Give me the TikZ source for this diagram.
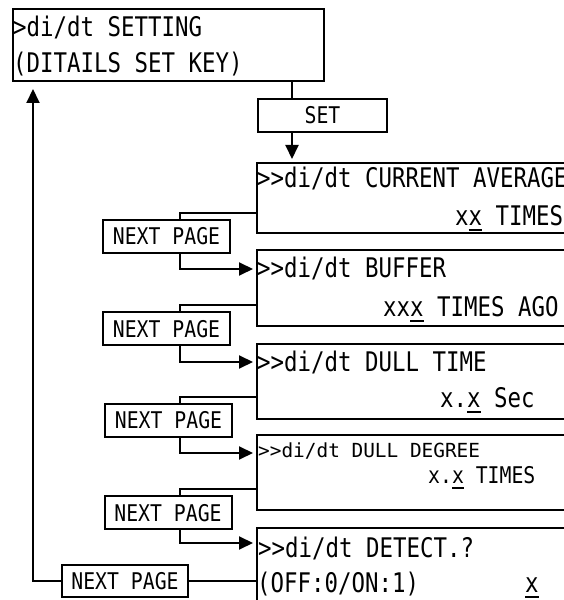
\documentclass[tikz,border=0pt]{standalone}
\usepackage{fontspec}
\usetikzlibrary{arrows.meta, positioning}
\newfontfamily\lcdfont[FakeStretch=0.83]{DejaVu Sans Mono}
\newfontfamily\keyfont[FakeStretch=0.86]{DejaVu Sans Mono}
\newfontfamily\smallfont{DejaVu Sans Mono}
\newcommand{\lcdbig}{\lcdfont\fontsize{27}{32}\selectfont}
\newcommand{\lcdkey}{\keyfont\fontsize{23}{28}\selectfont}
\newcommand{\lcdsmall}{\smallfont\fontsize{19.4}{23}\selectfont}
\newcommand{\lcdcur}[1]{\setbox0\hbox{#1}\rlap{\rule[-5pt]{\wd0}{2pt}}#1}

\begin{document}
\begin{tikzpicture}[x=1pt, y=1pt,
    lcd/.style={draw, line width=2pt, inner sep=0pt, anchor=north west},
    key/.style={draw, line width=2pt, minimum width=127pt, minimum height=33pt, inner sep=0pt, font=\lcdkey},
    txt/.style={anchor=base west, inner sep=0pt, font=\lcdbig},
    link/.style={line width=2pt},
    arr/.style={-{Triangle[length=14pt, width=13pt]}, line width=2pt, shorten >=3pt},
]
\useasboundingbox (0,0) rectangle (564,600);
\clip (0,0) rectangle (564,600);

\node[lcd, minimum width=311pt, minimum height=72pt] (menu) at (12,592) {};
\node[txt] (menua) at (13,563) {>di/dt SETTING};
\node[txt] (menub) at (13,527) {(DITAILS SET KEY)};
\node[key, minimum width=129pt, anchor=north west] (set) at (257,502) {SET};

\node[lcd, minimum width=330pt, minimum height=70pt] (avg) at (256,438) {};
\node[txt] (avga) at (257,412) {>>di/dt CURRENT AVERAGE};
\node[txt] (avgb) at (455,374) {x\lcdcur{x} TIMES};

\node[lcd, minimum width=330pt, minimum height=76pt] (buf) at (256,351) {};
\node[txt] (bufa) at (257,322) {>>di/dt BUFFER};
\node[txt] (bufb) at (383,283) {xx\lcdcur{x} TIMES AGO};

\node[lcd, minimum width=330pt, minimum height=75pt] (dtime) at (256,257) {};
\node[txt] (dtimea) at (257,228) {>>di/dt DULL TIME};
\node[txt] (dtimeb) at (440,192) {x.\lcdcur{x} Sec};

\node[lcd, minimum width=330pt, minimum height=75pt] (ddeg) at (256,166) {};
\node[txt, font=\lcdsmall] (ddega) at (258,142) {>>di/dt DULL DEGREE};
\node[txt, font=\lcdkey] (ddegb) at (428,116) {x.\lcdcur{x} TIMES};

\node[lcd, minimum width=330pt, minimum height=100pt] (detect) at (256,73) {};
\node[txt] (detecta) at (258,42) {>>di/dt DETECT.?};
\node[txt] (detectb) at (257,7) {(OFF:0/ON:1)};
\node[txt] (detectc) at (525,7) {\lcdcur{x}};

\node[key] (next1) at (166.5,363.5) {NEXT PAGE};
\node[key] (next2) at (166.5,271) {NEXT PAGE};
\node[key] (next3) at (168.5,179.5) {NEXT PAGE};
\node[key] (next4) at (168,87) {NEXT PAGE};
\node[key, minimum width=126pt, minimum height=32pt] (next5) at (125,19) {NEXT PAGE};

\coordinate (tap) at (292,0);
\coordinate (col) at (180,0);
\coordinate (ret) at (33,0);

\draw[link] (menu.south -| tap) -- (set.north -| tap);
\draw[arr] (set.south -| tap) -- (avg.north -| tap);

\draw[link] ([yshift=-51pt]avg.north west) -| (next1.north -| col);
\draw[arr] (next1.south -| col) |- ([yshift=-20pt]buf.north west);
\draw[link] ([yshift=-56pt]buf.north west) -| (next2.north -| col);
\draw[arr] (next2.south -| col) |- ([yshift=-19pt]dtime.north west);
\draw[link] ([yshift=-54pt]dtime.north west) -| (next3.north -| col);
\draw[arr] (next3.south -| col) |- ([yshift=-19pt]ddeg.north west);
\draw[link] ([yshift=-55pt]ddeg.north west) -| (next4.north -| col);
\draw[arr] (next4.south -| col) |- ([yshift=-16pt]detect.north west);

\draw[link] (next5.east) -- (next5.east -| detect.west);
\draw[arr, shorten >=7pt] (next5.west) -| (menu.south -| ret);
\end{tikzpicture}
\end{document}
